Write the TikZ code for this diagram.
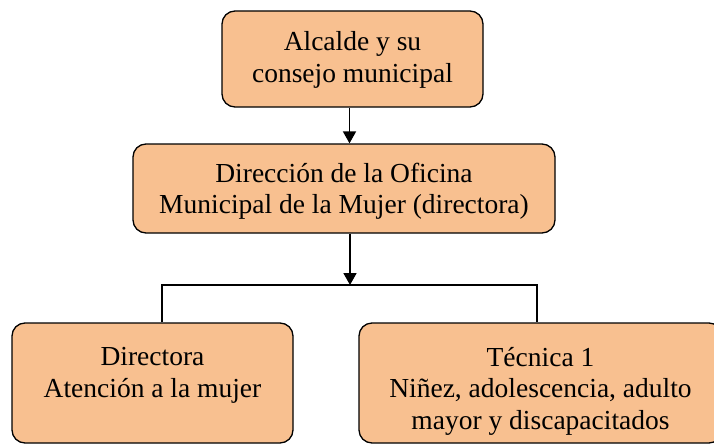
\documentclass[tikz,border=0pt]{standalone}
\usepackage{fontspec}
\setmainfont{Liberation Serif}
\usetikzlibrary{arrows.meta}
\definecolor{peach}{HTML}{F8C090}
\begin{document}
\begin{tikzpicture}[x=1pt,y=-1pt,
  box/.style={draw=black, line width=1.3pt, fill=peach, rounded corners=13pt, inner sep=0pt},
  txt/.style={font=\fontsize{27.5}{31.5}\selectfont, align=center, inner sep=0pt},
  arr/.style={line width=1.8pt, -{Triangle[length=12pt,width=13pt]}},
  conn/.style={line width=1.3pt}]
\useasboundingbox (0,0) rectangle (714,444);
\fill[white] (0,0) rectangle (714,444);
\clip (0,0) rectangle (714,444);
\node[box, minimum width=261pt, minimum height=96pt] (alc) at (352.5,59) {};
\node[box, minimum width=422pt, minimum height=89pt] (dom) at (344,188.5) {};
\node[box, minimum width=281pt, minimum height=120pt] (dir) at (152.5,383) {};
\node[box, minimum width=363pt, minimum height=120pt] (tec) at (540.5,383) {};
\node[txt] (alct) at (352.5,60) {Alcalde y su\\consejo municipal};
\node[txt] (domt) at (344,191) {Dirección de la Oficina\\Municipal de la Mujer (directora)};
\node[txt, anchor=north] (dirt) at (152.5,347.5) {Directora\\Atención a la mujer};
\node[txt, anchor=north] (tect) at (540.5,347) {Técnica 1\\Niñez, adolescencia, adulto\\mayor y discapacitados};
\coordinate (a1) at (349.5,0);
\coordinate (split) at (350,285);
\coordinate (hl) at (162,285);
\coordinate (hr) at (537,285);
\draw[arr] (alc.south -| a1) -- (dom.north -| a1);
\draw[arr] (dom.south -| split) -- (split);
\draw[conn] (dir.north -| hl) -- (hl) -- (hr) -- (tec.north -| hr);
\end{tikzpicture}
\end{document}
